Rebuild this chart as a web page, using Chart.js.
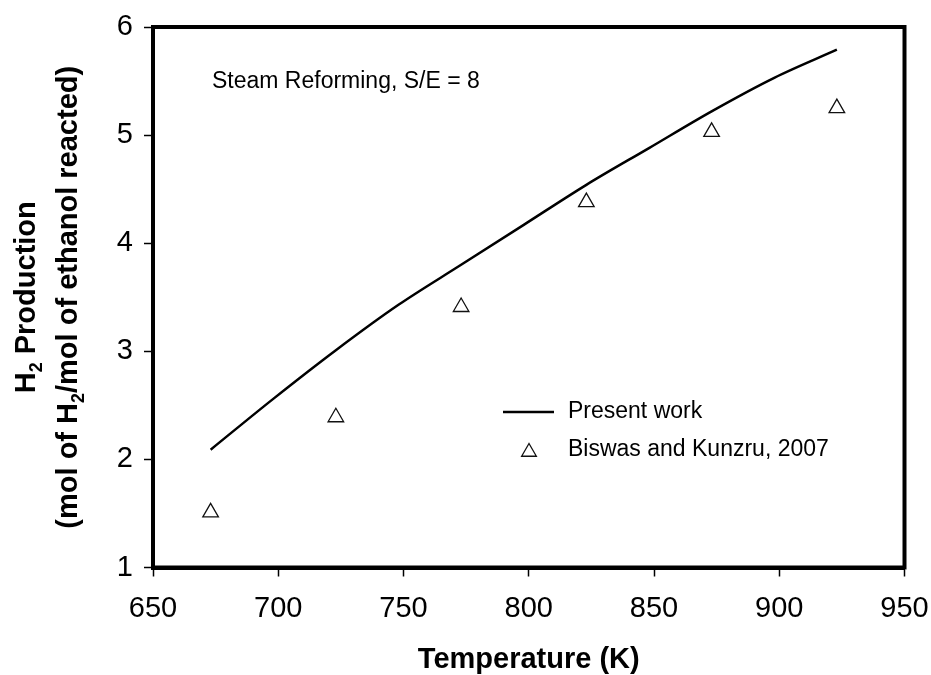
<!DOCTYPE html>
<html>
<head>
<meta charset="utf-8">
<title>H2 production vs temperature</title>
<script src="https://cdn.jsdelivr.net/npm/chart.js@4.4.1/dist/chart.umd.min.js"></script>
<style>
  html, body { margin: 0; padding: 0; background: #fff; }
  #wrap { width: 931px; height: 675px; position: relative; }
</style>
</head>
<body>
<div id="wrap"><canvas id="h2Chart"></canvas></div>
<script>
// model curve (present work)
const modelTemps = [673, 698, 723, 748, 773, 798, 823, 848, 873, 898, 923];
const modelH2 = [2.09, 2.56, 3.01, 3.43, 3.80, 4.17, 4.54, 4.88, 5.22, 5.53, 5.79];

// experimental points (Biswas and Kunzru, 2007)
const expTemps = [673, 723, 773, 823, 873, 923];
const expH2 = [1.51, 2.39, 3.41, 4.38, 5.03, 5.25];

const seriesNames = ['Present work', 'Biswas and Kunzru, 2007'];
const xRange = [650, 950];
const yRange = [1, 6];
const xStep = 50;
const yStep = 1;
const noteText = 'Steam Reforming, S/E = 8';

const FONT = '"Liberation Sans", Arial, Helvetica, sans-serif';

// draws one rotated line of text with subscript parts
function rotatedRichText(ctx, parts, baseX, centerY, size) {
    const mainFont = `bold ${size}px ${FONT}`;
    const subFont = `bold ${Math.round(size * 0.62)}px ${FONT}`;
    ctx.save();
    ctx.translate(baseX, centerY);
    ctx.rotate(-Math.PI / 2);
    ctx.textAlign = 'left';
    ctx.textBaseline = 'alphabetic';
    ctx.fillStyle = '#000';
    const widths = parts.map(p => {
        ctx.font = p.sub ? subFont : mainFont;
        return ctx.measureText(p.t).width;
    });
    let x = -widths.reduce((s, w) => s + w, 0) / 2;
    parts.forEach((p, i) => {
        ctx.font = p.sub ? subFont : mainFont;
        ctx.fillText(p.t, x, p.sub ? 7 : 0);
        x += widths[i];
    });
    ctx.restore();
}

function triangle(ctx, x, y, r) {
    ctx.beginPath();
    let rad = 0;
    for (let i = 0; i < 3; i++) {
        const px = x + Math.sin(rad) * r;
        const py = y - Math.cos(rad) * r;
        if (i === 0) ctx.moveTo(px, py); else ctx.lineTo(px, py);
        rad += 2 * Math.PI / 3;
    }
    ctx.closePath();
    ctx.stroke();
}

// box frame, note, legend and the y title
const decorations = {
    id: 'decorations',
    afterDraw(chart) {
        const { ctx, chartArea: a } = chart;
        const lineDs = chart.data.datasets[0];
        const ptDs = chart.data.datasets[1];

        ctx.save();
        ctx.strokeStyle = '#000';
        ctx.lineWidth = 4;
        ctx.strokeRect(a.left, a.top, a.right - a.left, a.bottom - a.top);

        ctx.fillStyle = '#000';
        ctx.font = `23px ${FONT}`;
        ctx.textAlign = 'left';
        ctx.textBaseline = 'middle';
        ctx.fillText(noteText, a.left + 59, a.top + 55);

        // legend
        const lx = a.left + 350;
        const ly1 = a.top + 385;
        const ly2 = a.top + 423;
        ctx.strokeStyle = lineDs.borderColor;
        ctx.lineWidth = lineDs.borderWidth;
        ctx.beginPath();
        ctx.moveTo(lx, ly1);
        ctx.lineTo(lx + 51, ly1);
        ctx.stroke();

        ctx.strokeStyle = ptDs.pointBorderColor;
        ctx.lineWidth = ptDs.pointBorderWidth;
        triangle(ctx, lx + 26, ly2 + 2, 8.5);

        ctx.fillText(seriesNames[0], lx + 65, ly1);
        ctx.fillText(seriesNames[1], lx + 65, ly2);
        ctx.restore();

        const cy = (a.top + a.bottom) / 2;
        rotatedRichText(ctx, [{ t: 'H' }, { t: '2', sub: true }, { t: ' Production' }], 35, cy, 29);
        rotatedRichText(ctx, [{ t: '(mol of H' }, { t: '2', sub: true }, { t: '/mol of ethanol reacted)' }], 77, cy, 29);
    }
};

const ctx = document.getElementById('h2Chart').getContext('2d');
new Chart(ctx, {
    type: 'scatter',
    data: {
        datasets: [
            {
                label: seriesNames[0],
                data: modelTemps.map((t, i) => ({ x: t, y: modelH2[i] })),
                showLine: true,
                borderColor: '#000',
                borderWidth: 2.5,
                pointRadius: 0,
                cubicInterpolationMode: 'monotone',
                fill: false
            },
            {
                label: seriesNames[1],
                data: expTemps.map((t, i) => ({ x: t, y: expH2[i] })),
                showLine: false,
                pointStyle: 'triangle',
                pointRadius: 9,
                pointBorderWidth: 1.3,
                pointBorderColor: '#111',
                pointBackgroundColor: 'rgba(255,255,255,0)'
            }
        ]
    },
    options: {
        responsive: true,
        maintainAspectRatio: false,
        animation: false,
        layout: { padding: { top: 27, right: 26.5, bottom: 0, left: 0 } },
        plugins: {
            legend: { display: false },
            tooltip: { enabled: false }
        },
        scales: {
            x: {
                type: 'linear',
                min: xRange[0],
                max: xRange[1],
                ticks: {
                    stepSize: xStep,
                    color: '#000',
                    font: { family: FONT, size: 29 },
                    padding: 15,
                    maxRotation: 0
                },
                grid: {
                    drawOnChartArea: false,
                    drawTicks: true,
                    tickLength: 9,
                    tickWidth: 1.5,
                    tickColor: '#000'
                },
                border: { display: true, color: '#000', width: 4 },
                title: {
                    display: true,
                    text: 'Temperature (K)',
                    color: '#000',
                    font: { family: FONT, size: 29, weight: 'bold', lineHeight: 1 },
                    padding: { top: 0, bottom: 1 }
                },
                afterFit(scale) {
                    scale.height = 107.5;
                    scale.paddingLeft = 0;
                    scale.paddingRight = 0;
                }
            },
            y: {
                type: 'linear',
                min: yRange[0],
                max: yRange[1],
                ticks: {
                    stepSize: yStep,
                    color: '#000',
                    font: { family: FONT, size: 29 },
                    padding: 11
                },
                grid: {
                    drawOnChartArea: false,
                    drawTicks: true,
                    tickLength: 9,
                    tickWidth: 1.5,
                    tickColor: '#000'
                },
                border: { display: true, color: '#000', width: 4 },
                afterFit(scale) {
                    scale.width = 153;
                    scale.paddingTop = 0;
                    scale.paddingBottom = 0;
                }
            }
        }
    },
    plugins: [decorations]
});
</script>
</body>
</html>
